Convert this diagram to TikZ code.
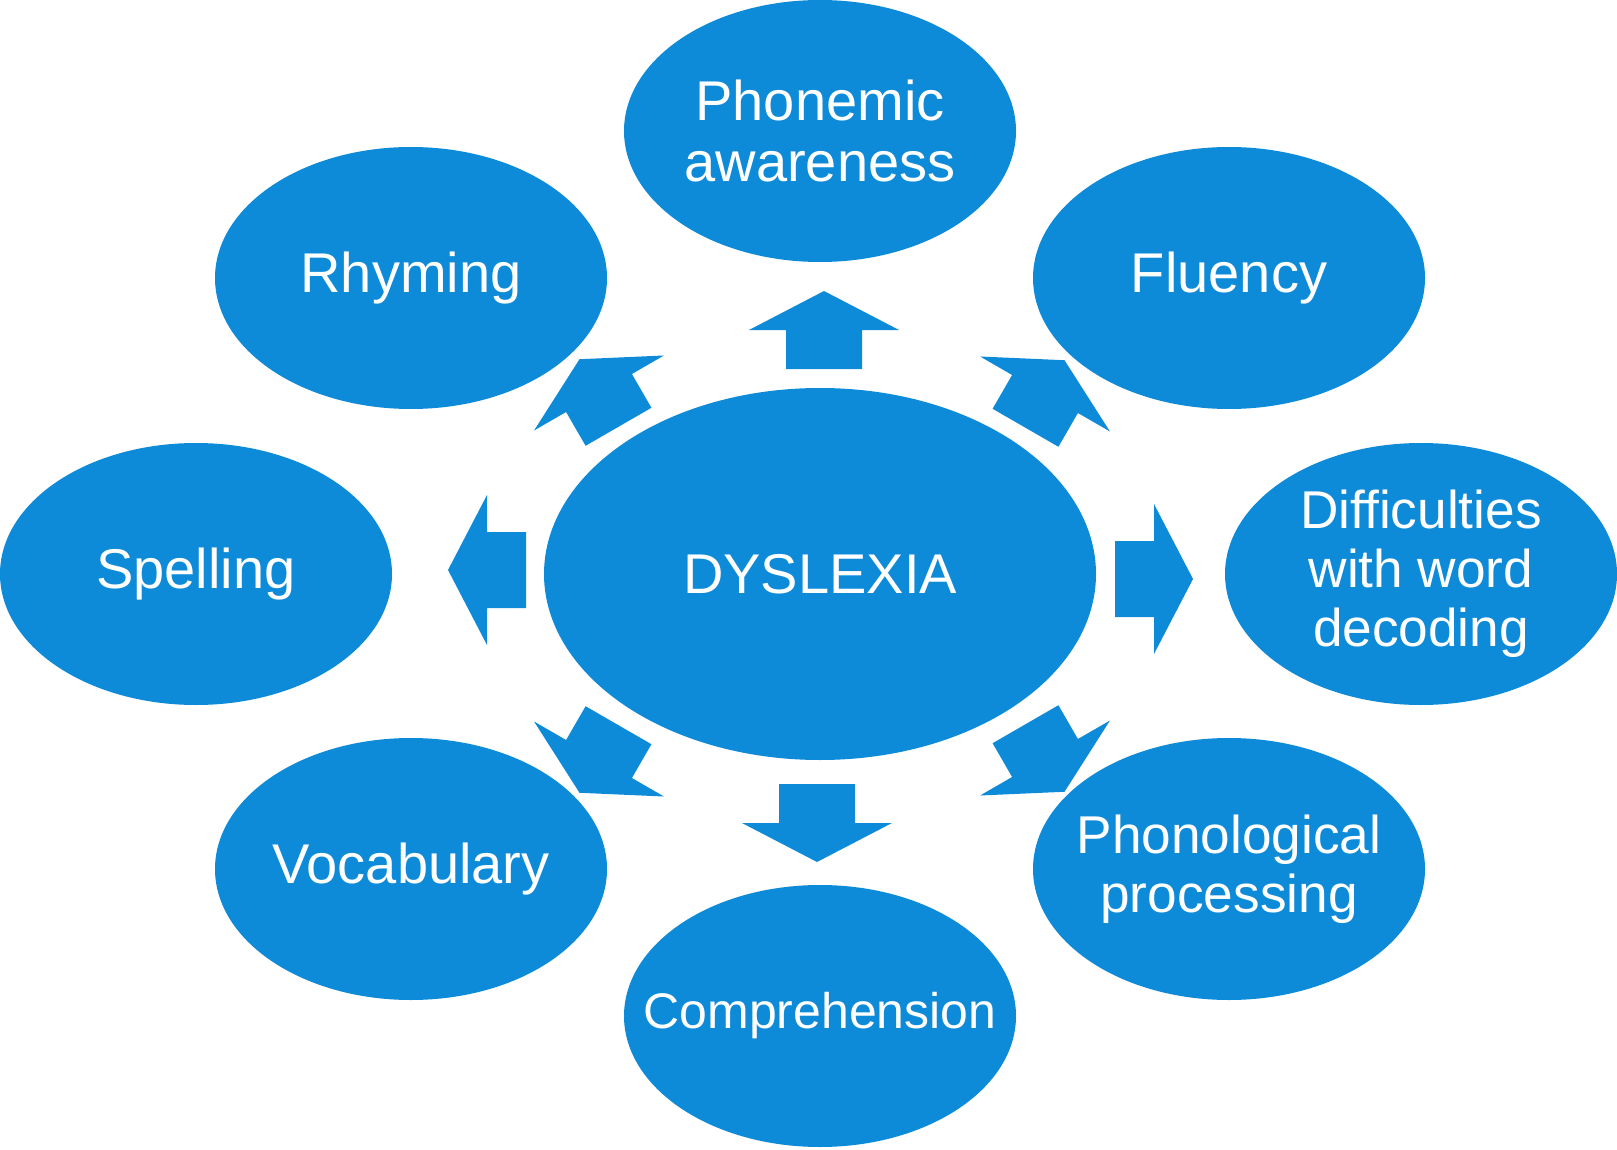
\documentclass[tikz,border=0pt]{standalone}
\usepackage{fontspec}
\setmainfont{Liberation Sans}
\usepackage{tikz}
\usetikzlibrary{shapes.geometric}

\definecolor{dysblue}{RGB}{13,139,217}

\tikzset{
  topic/.style={ellipse, fill=dysblue, text=white, minimum width=196pt,
    minimum height=131pt, inner xsep=-25pt, inner ysep=0pt, align=center,
    font=\fontsize{28}{30.5}\selectfont},
  smalltopic/.style={topic, font=\fontsize{26.6}{29.5}\selectfont},
  tinytopic/.style={topic, font=\fontsize{25}{28}\selectfont},
  hub/.style={topic, minimum width=276pt, minimum height=186pt},
  pics/blockarrow/.style={code={
    \fill[dysblue] (-39,-38) -- (0,-38) -- (0,-75) -- (39,0)
      -- (0,75) -- (0,38) -- (-39,38) -- cycle;}}
}

\begin{document}
\begin{tikzpicture}[x=0.5pt,y=-0.5pt]
\useasboundingbox (0,0) rectangle (1617,1150);

\node[hub] (dys) at (820,574) {DYSLEXIA};

\node[topic] (phon) at (820,131) {Phonemic\\awareness};
\node[topic] (rhym) at (411,278) {Rhyming};
\node[topic] (flu) at (1229,278) {Fluency};
\node[topic] (spel) at (196,574) {Spelling};
\node[smalltopic] (dec) at (1421,574) {Difficulties\\with word\\decoding};
\node[topic] (voc) at (411,869) {Vocabulary};
\node[smalltopic] (proc) at (1229,869) {Phonological\\processing};
\node[tinytopic] (comp) at (820,1016) {Comprehension};

% arrows out of the hub
\pic[rotate=90]  at (824,330)  {blockarrow};
\pic[rotate=60]  at (1045,394) {blockarrow};
\pic[rotate=0]   at (1154,579) {blockarrow};
\pic[rotate=-60] at (1045,758) {blockarrow};
\pic[rotate=-90] at (817,823)  {blockarrow};
\pic[rotate=-120] at (599,759) {blockarrow};
\pic[rotate=180] at (487,570)  {blockarrow};
\pic[rotate=120] at (599,393)  {blockarrow};
\end{tikzpicture}
\end{document}
